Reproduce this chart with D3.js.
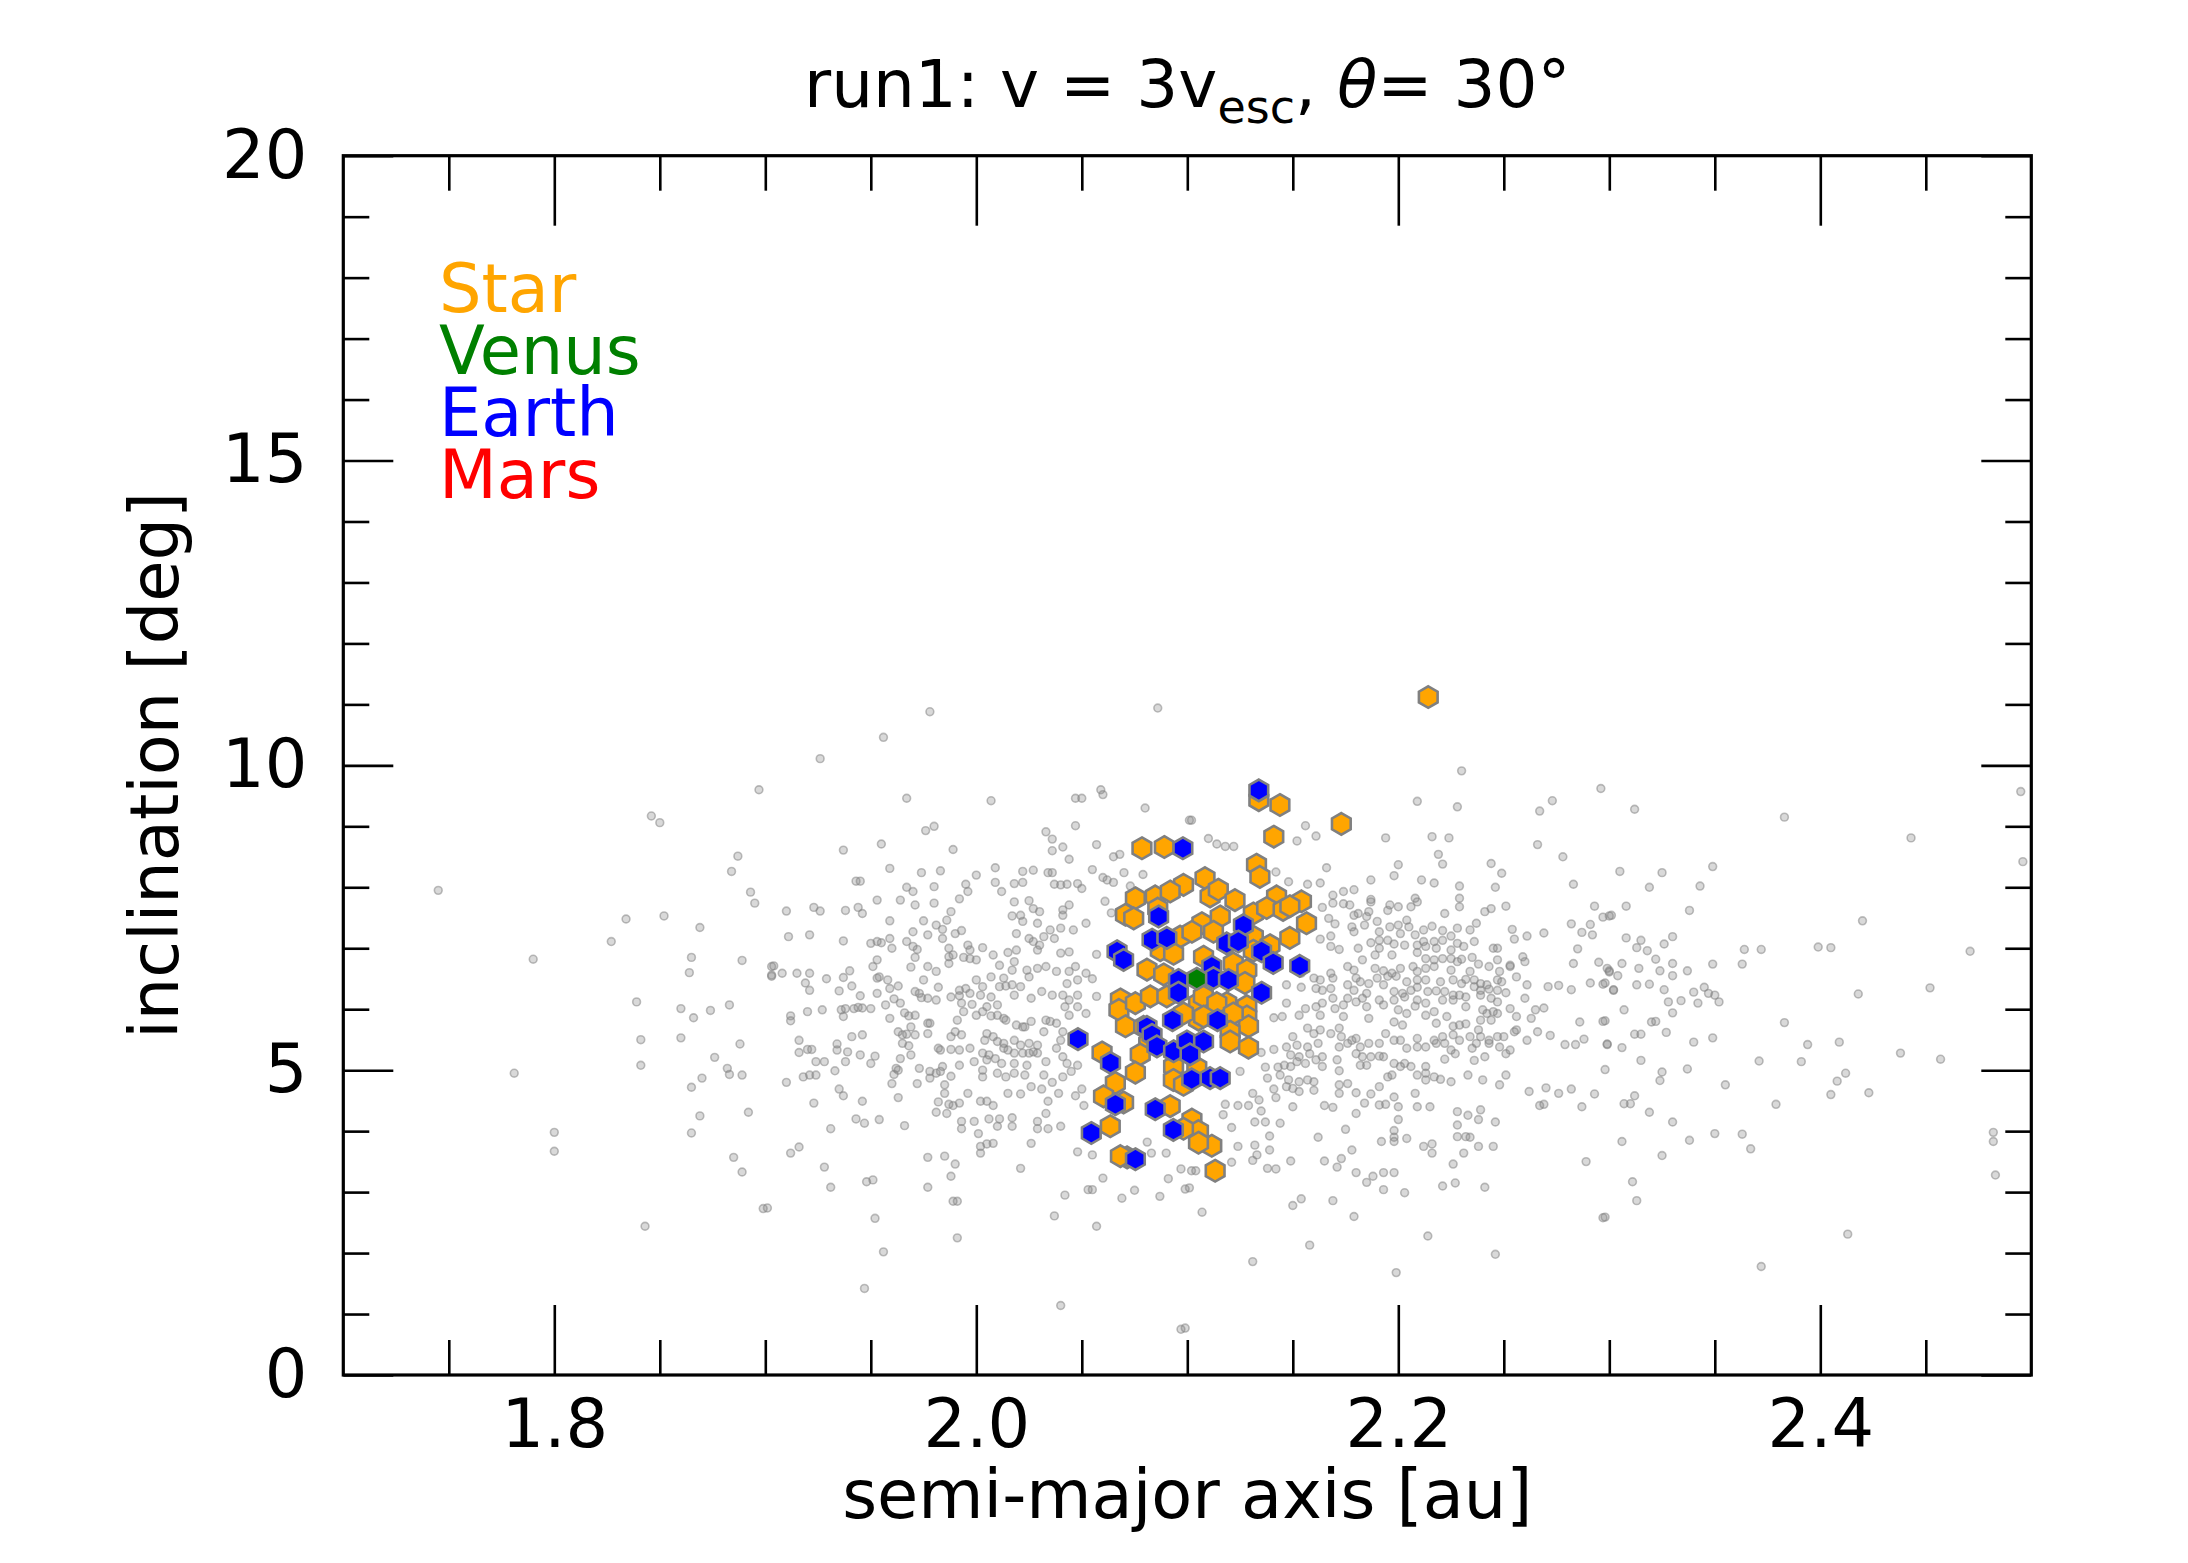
<!DOCTYPE html>
<html><head><meta charset="utf-8">
<script src="https://cdn.jsdelivr.net/npm/d3@7"></script>
<style>html,body{margin:0;padding:0;background:#fff;} text{font-family:"DejaVu Sans",sans-serif;white-space:pre;}</style>
</head><body><svg id="chart" width="2188" height="1563"></svg>
<script>
// ---------------- DATA ----------------
const xMajorTicks = [1.8, 2.0, 2.2, 2.4];
const xMinorTicks = [1.75,1.85,1.9,1.95,2.05,2.1,2.15,2.25,2.3,2.35,2.45];
const yMajorTicks = [0, 5, 10, 15, 20];
const yMinorTicks = [1,2,3,4,6,7,8,9,11,12,13,14,16,17,18,19];
const legendLabels = ["Star", "Venus", "Earth", "Mars"];
const legendColors = ["orange", "green", "blue", "red"];

// background particles [a, inc], read region by region
const bgFar = [
[1.897,9.60],[1.846,9.17],[1.850,9.06],[1.887,8.51],[1.884,8.26],[1.745,7.95],[1.893,7.92],[1.895,7.74],[1.834,7.48],[1.852,7.53],[1.869,7.34],[1.827,7.11],[1.790,6.82],[1.865,6.85],[1.864,6.60],[1.889,6.80],[1.903,6.70],[1.903,6.54],[1.839,6.12],[1.860,6.01],[1.866,5.86],[1.874,5.98],[1.883,6.07],[1.841,5.50],[1.860,5.53],[1.888,5.43],[1.876,5.21],[1.841,5.08],[1.781,4.95],[1.882,5.03],[1.883,4.93],[1.889,4.92],[1.870,4.87],[1.865,4.72],[1.869,4.25],[1.892,4.31],[1.800,3.98],[1.865,3.97],[1.800,3.67],[1.885,3.57],[1.889,3.33],[1.899,2.73],[1.843,2.44],
[2.312,9.28],[2.383,9.15],[2.443,8.81],[2.495,9.57],[2.496,8.42],[2.305,8.26],[2.325,8.24],[2.349,8.34],[2.319,8.00],[2.343,8.02],[2.308,7.69],[2.338,7.62],[2.301,7.54],[2.420,7.45],[2.308,7.17],[2.315,7.13],[2.330,7.19],[2.326,7.07],[2.313,7.01],[2.318,6.96],[2.364,6.98],[2.372,6.98],[2.399,7.02],[2.405,7.01],[2.471,6.95],[2.322,6.82],[2.306,6.75],[2.330,6.75],[2.349,6.74],[2.363,6.74],[2.314,6.67],[2.324,6.63],[2.337,6.63],[2.330,6.55],[2.300,6.63],[2.304,6.55],
[2.313,6.40],[2.319,6.41],[2.302,6.31],[2.326,6.32],[2.340,6.28],[2.345,6.36],[2.347,6.26],[2.350,6.23],[2.352,6.12],[2.334,6.14],[2.328,6.12],[2.342,6.10],[2.452,6.35],[2.418,6.25],[2.307,5.99],[2.330,5.94],[2.320,5.79],[2.322,5.80],[2.383,5.78],[2.312,5.59],[2.315,5.59],[2.327,5.62],[2.299,5.42],[2.306,5.37],[2.340,5.46],[2.349,5.53],[2.394,5.42],[2.409,5.46],[2.438,5.28],[2.457,5.18],[2.315,5.16],[2.371,5.15],[2.391,5.14],
[2.325,4.97],[2.324,4.83],[2.337,5.02],[2.355,4.76],[2.412,4.95],[2.408,4.82],[2.312,4.58],[2.307,4.45],[2.310,4.45],[2.379,4.44],[2.405,4.60],[2.423,4.63],[2.319,4.31],[2.330,4.15],[2.306,3.83],[2.338,3.85],[2.350,3.96],[2.363,3.95],[2.367,3.71],[2.325,3.60],[2.482,3.98],[2.482,3.83],[2.483,3.28],[2.311,3.17],[2.313,2.86],[2.413,2.31],[2.372,1.78],[2.298,6.43],[2.298,5.81],[2.298,5.01],[2.298,2.59]
];

const bgLeft = [
[1.978,10.88],[2.086,10.94],[1.956,10.46],[1.926,10.11],[1.967,9.46],[2.007,9.42],[2.047,9.46],[2.050,9.46],[2.059,9.60],[2.060,9.52],[2.080,9.30],[2.101,9.10],[1.976,8.93],[1.980,9.00],[1.937,8.61],[1.955,8.71],[1.989,8.62],[2.033,8.91],[2.036,8.79],[2.047,9.01],[2.036,8.60],[2.041,8.66],[2.044,8.46],[2.057,8.70],[2.065,8.50],[2.068,8.54],[1.959,8.31],[1.974,8.24],[1.983,8.27],[2.000,8.20],[2.009,8.32],[2.022,8.26],[2.027,8.28],[2.034,8.24],[2.036,8.24],[2.055,8.29],[2.070,8.24],[2.079,8.21],
[2.060,8.16],[2.062,8.12],[2.065,8.08],[2.073,8.02],[2.061,7.77],[2.064,7.58],[2.057,6.90],[2.055,6.50],[2.057,6.21],
[1.910,7.61],[1.923,7.67],[1.926,7.61],[1.921,7.22],[1.911,7.19],[1.904,6.71],[1.908,6.59],[1.903,6.56],[1.915,6.59],[1.921,6.59],[1.919,6.43],[1.921,6.31],[1.929,6.50],[1.912,5.89],[1.912,5.81],[1.920,5.96],[1.927,5.99],[1.916,5.49],[1.916,5.29],[1.920,5.34],[1.922,5.34],[1.924,5.14],[1.928,5.14],[1.918,4.89],[1.921,4.92],[1.924,4.92],[1.910,4.80],
[1.960,4.78],[1.972,4.78],[1.985,4.76],[2.036,4.80],[1.935,4.69],[1.937,4.58],[1.946,4.49],[1.963,4.55],[1.982,4.48],[1.985,4.62],[1.987,4.44],[1.989,4.42],[1.992,4.46],[1.996,4.62],[2.002,4.49],[2.005,4.49],[2.008,4.42],[2.015,4.62],[2.021,4.61],[2.026,4.73],[2.031,4.69],[2.034,4.49],[2.039,4.62],[2.047,4.58],[2.050,4.69],[2.051,4.42],[1.923,4.46],
[1.943,4.20],[1.947,4.13],[1.954,4.19],[1.966,4.09],[1.981,4.31],[1.986,4.29],[1.993,4.16],[1.999,4.16],[2.006,4.20],[2.011,4.20],[2.017,4.22],[2.029,4.16],[2.033,4.29],[2.029,4.04],[2.034,4.04],[2.040,4.08],[2.017,4.08],[2.010,4.08],[1.993,4.04],[2.001,3.96],[1.931,4.04],
[1.912,3.64],[1.916,3.74],[1.928,3.41],[1.931,3.08],[1.948,3.17],[1.951,3.20],[1.977,3.57],[1.985,3.59],[1.990,3.46],[1.988,3.26],[1.977,3.08],[2.002,3.75],[2.005,3.79],[2.008,3.80],[2.002,3.64],[2.026,3.80],[2.021,3.39],[2.048,3.66],[2.055,3.61],[2.060,3.23],[2.053,3.04],[2.055,3.04],[2.042,2.95],[2.069,2.90],[2.075,3.03],[2.083,3.64],[2.087,2.93],[2.091,3.22],[2.097,3.38],[2.099,3.05],[2.081,3.82],[2.090,3.64],[1.989,2.85],[1.991,2.85],[1.952,2.57],[1.901,2.74],[1.956,2.02],[1.991,2.25],[2.037,2.61],[2.057,2.44],[1.947,1.42],[2.040,1.14],[2.097,0.75],[2.102,3.35]
];

const bgLeftDense = [
[1.943,8.10],[1.945,8.10],[1.967,8.00],[1.970,7.93],[1.980,8.01],[1.995,8.05],[1.996,7.93],[2.009,8.08],[2.012,7.93],[2.018,8.06],[2.022,8.08],[2.037,8.05],[2.040,8.04],[2.043,8.05],[2.048,8.06],[2.050,7.98],
[1.953,7.79],[1.964,7.79],[1.971,7.71],[1.980,7.74],[1.992,7.81],[1.938,7.62],[1.944,7.67],[1.946,7.57],[1.988,7.60],[2.018,7.76],[2.025,7.78],[2.027,7.65],[2.030,7.60],[2.044,7.71],[2.041,7.63],[2.041,7.54],
[1.959,7.45],[1.975,7.45],[1.981,7.38],[1.984,7.31],[1.986,7.46],[2.017,7.53],[2.021,7.54],[2.022,7.44],[2.029,7.41],[2.040,7.33],[2.046,7.30],[2.035,7.30],[1.970,7.27],[1.977,7.22],[1.990,7.24],[1.993,7.29],[2.052,7.41],
[1.937,7.12],[1.950,7.08],[1.953,7.11],[1.955,7.09],[1.959,7.16],[1.960,7.00],[1.967,7.11],[1.970,7.03],[1.972,6.98],[1.984,7.16],[1.987,7.00],[1.996,7.05],[1.997,6.97],[2.003,7.01],[2.019,7.24],[2.025,7.16],[2.027,7.11],[2.032,7.19],[2.037,7.16],[2.029,6.97],[2.030,7.05],
[1.951,6.70],[1.953,6.81],[1.971,6.85],[1.969,6.69],[1.977,6.70],[1.981,6.62],[1.987,6.86],[1.989,6.89],[1.987,6.75],[1.994,6.85],[1.997,6.83],[2.000,6.81],[2.008,6.89],[2.011,6.72],[2.015,6.93],[2.018,6.78],[2.019,6.97],[2.017,6.64],[2.024,6.64],[2.029,6.67],[2.033,6.70],[2.038,6.62],[2.044,6.62],[2.047,6.70],[2.040,6.92],[2.044,6.94],
[1.937,6.52],[1.940,6.63],[1.953,6.51],[1.954,6.53],[1.958,6.48],[1.963,6.38],[1.959,6.34],[1.935,6.30],[1.941,6.38],[1.971,6.29],[1.975,6.48],[1.982,6.36],[1.992,6.31],[1.995,6.34],[2.000,6.48],[2.003,6.37],[2.007,6.53],[2.013,6.51],[2.011,6.37],[2.014,6.38],[2.017,6.40],[2.021,6.37],[2.025,6.53],[2.043,6.42],[2.048,6.48],[2.052,6.59],
[1.945,6.22],[1.953,6.26],[1.961,6.17],[1.973,6.26],[1.974,6.19],[1.977,6.18],[1.981,6.15],[1.988,6.20],[1.992,6.22],[1.997,6.26],[2.002,6.23],[2.007,6.20],[2.018,6.23],[2.026,6.18],[2.031,6.29],[2.036,6.23],[2.041,6.23],[2.044,6.15],[2.048,6.23],[1.957,6.07],[1.964,6.10],[1.993,6.10],[1.998,6.08],[2.005,6.04],[2.010,6.07],
[1.936,5.99],[1.938,6.01],[1.942,6.01],[1.944,6.03],[1.946,6.02],[1.950,6.01],[1.937,5.88],[1.959,5.85],[1.966,5.94],[1.968,5.89],[1.971,5.90],[1.977,5.77],[1.978,5.77],[1.991,5.82],[1.994,5.96],[2.000,5.90],[2.003,5.96],[2.007,5.89],[2.010,5.90],[2.013,5.85],[2.014,5.82],[2.019,5.74],[2.022,5.71],[2.023,5.71],[2.026,5.80],[2.033,5.82],[2.035,5.80],[2.038,5.77],[2.042,6.04],[2.044,5.90],[2.048,6.04],[2.052,5.93],
[1.946,5.58],[1.941,5.55],[1.963,5.63],[1.965,5.58],[1.967,5.59],[1.969,5.71],[1.971,5.58],[1.977,5.60],[1.988,5.55],[1.990,5.63],[1.993,5.58],[2.005,5.60],[2.008,5.55],[2.010,5.47],[2.013,5.44],[2.004,5.49],[2.018,5.49],[2.021,5.41],[2.025,5.44],[2.029,5.41],[2.032,5.63],[2.040,5.49],[2.041,5.63],[1.965,5.44],[1.968,5.40],[1.982,5.36],
[1.934,5.43],[1.934,5.33],[1.939,5.30],[1.945,5.25],[1.952,5.23],[1.964,5.19],[1.969,5.25],[1.983,5.33],[1.988,5.34],[1.992,5.33],[1.997,5.36],[2.003,5.28],[2.006,5.25],[2.009,5.19],[2.013,5.36],[2.015,5.33],[2.018,5.28],[2.022,5.28],[2.025,5.28],[2.027,5.30],[2.029,5.28],[2.033,5.14],[2.038,5.36],[2.041,5.22],
[1.938,5.14],[1.950,5.11],[1.962,5.03],[1.973,5.03],[1.978,4.98],[1.984,5.06],[1.992,5.08],[1.999,5.14],[2.005,5.17],[2.012,5.11],[2.018,5.11],[2.024,5.08],[2.043,5.11],[2.048,5.08],
[1.933,4.99],[1.961,4.93],[1.963,5.00],[1.978,4.87],[1.981,4.95],[1.983,4.98],[1.988,4.90],[2.003,5.00],[2.003,4.89],[2.010,4.95],[2.014,4.89],[2.018,4.95],[2.023,4.92],[2.032,4.92],[2.041,4.89],[2.045,4.98]
];

const bgRight = [
[2.230,9.91],[2.296,9.62],[2.209,9.41],[2.228,9.32],[2.273,9.42],[2.267,9.25],[2.102,9.10],[2.156,9.01],[2.161,8.84],[2.194,8.81],[2.216,8.83],[2.224,8.81],[2.110,8.80],[2.114,8.71],[2.118,8.67],[2.122,8.67],[2.152,8.76],[2.266,8.70],[2.219,8.54],[2.221,8.38],[2.278,8.50],[2.200,8.37],[2.166,8.32],[2.244,8.39],[2.249,8.23],[2.198,8.19],[2.142,8.25],[2.187,8.12],[2.211,8.12],[2.217,8.07],[2.229,8.02],[2.157,8.05],[2.163,8.07],[2.246,8.00],[2.283,8.05],[2.148,8.09],
[2.174,7.93],[2.179,7.96],[2.169,7.87],[2.187,7.80],[2.208,7.82],[2.229,7.82],[2.293,7.69],[2.297,7.51],[2.300,7.53],[2.269,7.25],[2.282,7.40],[2.287,7.26],[2.291,7.39],[2.292,7.22],
[2.285,6.99],[2.283,6.75],[2.295,6.77],[2.299,6.67],[2.300,6.61],[2.271,6.37],[2.276,6.39],[2.282,6.32],[2.291,6.43],[2.297,6.41],[2.302,6.32],[2.269,6.02],[2.286,5.79],[2.297,5.80],[2.141,5.86],
[2.272,5.57],[2.279,5.42],[2.284,5.42],[2.288,5.51],[2.299,5.43],[2.135,5.29],[2.141,5.34],[2.137,5.05],[2.143,5.05],[2.125,4.98],[2.138,4.87],
[2.270,4.71],[2.276,4.62],[2.282,4.69],[2.293,4.61],[2.287,4.40],[2.141,4.69],[2.142,4.55],[2.131,4.62],[2.134,4.51],[2.124,4.42],[2.129,4.42],[2.118,4.44],[2.135,4.33],[2.150,4.40],[2.165,4.42],[2.169,4.39],[2.180,4.29],[2.184,4.46],[2.209,4.40],[2.215,4.40],[2.267,4.42],[2.269,4.44],[2.191,4.43],[2.194,4.44],[2.200,4.40],
[2.228,4.32],[2.233,4.26],[2.239,4.35],[2.238,4.19],[2.246,4.15],[2.228,4.10],[2.232,3.91],[2.234,3.90],[2.228,3.91],[2.238,3.75],[2.245,3.75],[2.231,3.64],[2.226,3.46],[2.227,3.15],[2.241,3.08],[2.117,4.27],[2.121,4.06],[2.132,4.15],[2.137,4.15],[2.144,4.13],[2.139,3.92],[2.124,3.75],[2.132,3.77],[2.133,3.61],[2.139,3.69],[2.121,3.49],[2.131,3.52],[2.138,3.39],[2.142,3.38],[2.149,3.51],[2.162,3.90],[2.165,3.51],[2.171,3.41],[2.173,3.55],[2.178,3.69],[2.175,4.03],
[2.192,3.83],[2.198,3.90],[2.198,3.83],[2.204,3.88],[2.198,4.01],[2.200,4.19],[2.212,3.75],[2.216,3.79],[2.216,3.64],[2.180,3.32],[2.185,3.16],[2.188,3.26],[2.193,3.32],[2.198,3.32],[2.193,3.04],[2.203,2.99],[2.221,3.10],[2.101,3.07],[2.104,3.35],[2.107,2.67],[2.150,2.78],[2.154,2.89],[2.169,2.86],[2.179,2.60],[2.158,2.13],[2.131,1.86],[2.199,1.68],[2.214,2.28],[2.246,1.98],[2.297,2.58],[2.289,3.50],[2.099,0.77]
];

const bgRightDense = [
[2.164,7.67],[2.169,7.74],[2.174,7.73],[2.177,7.71],[2.181,7.57],[2.186,7.60],[2.187,7.76],[2.196,7.71],[2.195,7.62],[2.200,7.68],[2.206,7.68],[2.209,7.76],[2.222,7.57],[2.229,7.68],[2.241,7.60],[2.244,7.65],[2.251,7.69],[2.167,7.49],[2.179,7.54],[2.185,7.52],[2.190,7.44],
[2.170,7.40],[2.178,7.35],[2.179,7.27],[2.184,7.38],[2.191,7.27],[2.196,7.35],[2.200,7.38],[2.204,7.46],[2.201,7.24],[2.205,7.35],[2.208,7.22],[2.212,7.30],[2.216,7.36],[2.221,7.29],[2.225,7.20],[2.228,7.33],[2.234,7.30],[2.237,7.41],[2.254,7.31],[2.261,7.20],[2.163,7.15],[2.168,7.20],[2.191,7.13],[2.195,7.13],[2.212,7.11],[2.217,7.11],[2.221,7.13],[2.228,7.08],
[2.168,7.03],[2.172,6.98],[2.181,7.00],[2.187,7.09],[2.191,7.00],[2.198,7.07],[2.203,7.05],[2.209,7.05],[2.213,7.03],[2.218,7.00],[2.225,6.97],[2.231,7.03],[2.236,7.11],[2.245,7.00],[2.247,7.00],[2.255,7.15],[2.197,6.89],[2.209,6.93],[2.213,6.83],[2.217,6.81],[2.221,6.83],[2.225,6.83],[2.230,6.82],[2.235,6.85],[2.238,6.74],[2.247,6.81],[2.253,6.72],[2.259,6.86],[2.260,6.78],[2.189,6.89],
[2.176,6.70],[2.179,6.64],[2.183,6.81],[2.189,6.67],[2.193,6.63],[2.197,6.59],[2.201,6.67],[2.207,6.70],[2.209,6.62],[2.213,6.67],[2.217,6.70],[2.225,6.64],[2.228,6.78],[2.234,6.62],[2.243,6.70],[2.248,6.62],[2.253,6.70],[2.256,6.53],[2.168,6.59],[2.169,6.51],[2.180,6.51],[2.182,6.45],[2.186,6.42],[2.190,6.51],[2.195,6.54],[2.199,6.54],[2.204,6.45],[2.209,6.48],[2.213,6.48],[2.220,6.45],[2.226,6.48],[2.230,6.42],[2.232,6.49],[2.236,6.48],[2.239,6.42],[2.242,6.40],[2.247,6.48],[2.249,6.45],[2.261,6.40],[2.160,6.51],[2.163,6.48],[2.154,6.59],
[2.161,6.34],[2.164,6.31],[2.154,6.36],[2.147,6.40],[2.168,6.34],[2.176,6.40],[2.179,6.31],[2.185,6.26],[2.193,6.40],[2.198,6.29],[2.202,6.26],[2.206,6.31],[2.209,6.36],[2.214,6.29],[2.218,6.30],[2.222,6.29],[2.226,6.23],[2.229,6.23],[2.236,6.37],[2.239,6.31],[2.243,6.33],[2.247,6.31],[2.251,6.27],[2.169,6.18],[2.176,6.18],[2.183,6.18],[2.191,6.15],[2.198,6.15],[2.203,6.20],[2.209,6.15],[2.213,6.10],[2.221,6.15],[2.226,6.15],[2.232,6.20],[2.239,6.23],[2.244,6.18],[2.247,6.12],[2.260,6.18],
[2.147,6.10],[2.156,6.01],[2.161,6.04],[2.164,6.10],[2.170,6.01],[2.174,6.07],[2.180,6.12],[2.185,6.04],[2.193,6.07],[2.200,5.99],[2.204,5.93],[2.208,6.05],[2.213,5.90],[2.217,5.96],[2.223,5.88],[2.232,6.04],[2.240,5.99],[2.242,5.93],[2.245,5.96],[2.247,5.93],[2.253,6.01],[2.256,5.88],[2.263,5.85],[2.265,5.99],[2.145,5.88],[2.153,5.90],[2.163,5.90],[2.174,5.88],[2.186,5.85],[2.198,5.79],[2.202,5.74],[2.218,5.77],[2.226,5.72],[2.229,5.74],[2.232,5.76],[2.239,5.82],[2.244,5.82],
[2.157,5.69],[2.160,5.60],[2.163,5.66],[2.168,5.60],[2.172,5.69],[2.173,5.55],[2.178,5.49],[2.180,5.52],[2.186,5.44],[2.191,5.44],[2.194,5.60],[2.198,5.49],[2.201,5.49],[2.209,5.52],[2.213,5.38],[2.217,5.49],[2.221,5.55],[2.222,5.44],[2.226,5.58],[2.229,5.49],[2.234,5.55],[2.238,5.66],[2.239,5.55],[2.243,5.49],[2.247,5.55],[2.250,5.55],[2.255,5.63],[2.256,5.66],[2.261,5.49],[2.266,5.63],[2.150,5.55],
[2.147,5.38],[2.152,5.41],[2.157,5.38],[2.162,5.44],[2.172,5.38],[2.176,5.44],[2.182,5.38],[2.187,5.22],[2.191,5.23],[2.193,5.22],[2.180,5.27],[2.204,5.36],[2.209,5.38],[2.218,5.44],[2.225,5.33],[2.227,5.27],[2.235,5.36],[2.237,5.44],[2.243,5.44],[2.248,5.38],[2.253,5.33],[2.149,5.25],[2.153,5.22],[2.158,5.27],[2.161,5.17],[2.164,5.22],[2.171,5.17],[2.183,5.22],[2.185,5.08],[2.198,5.11],[2.203,5.11],[2.206,5.06],[2.213,5.06],[2.222,5.18],[2.236,5.16],[2.241,5.22],[2.251,5.27],
[2.146,5.08],[2.149,5.06],[2.152,5.14],[2.156,5.11],[2.164,5.06],[2.172,4.99],[2.182,5.08],[2.195,4.89],[2.197,4.92],[2.201,5.06],[2.209,4.92],[2.213,4.95],[2.217,4.89],[2.220,4.85],[2.225,4.81],[2.233,4.92],[2.240,4.84],[2.251,4.92],[2.144,4.92],[2.148,4.84],[2.153,4.81],[2.157,4.84],[2.160,4.81],
[2.147,4.73],[2.150,4.70],[2.153,4.65],[2.160,4.67],[2.172,4.76],[2.176,4.78],[2.172,4.62],[2.180,4.63],[2.187,4.61],[2.191,4.73],[2.198,4.56],[2.208,4.62],[2.213,4.84],[2.248,4.76],[2.262,4.65]
];

const starPoints = [
[2.1439,9.35],[2.1339,9.43],[2.1730,9.04],[2.1410,8.83],[2.0785,8.64],[2.0891,8.66],[2.1328,8.37],[2.1344,8.17],[2.0982,8.04],[2.1084,8.15],
[2.0754,7.82],[2.0848,7.85],[2.0919,7.93],[2.1108,7.85],[2.1147,7.96],[2.1226,7.79],[2.1423,7.85],[2.1541,7.77],[2.0707,7.55],[2.0746,7.49],
[2.0860,7.65],[2.1069,7.41],[2.1156,7.52],[2.1313,7.57],[2.1376,7.66],[2.1454,7.63],[2.1486,7.69],[2.1565,7.41],[2.1486,7.17],[2.0966,7.19],
[2.1022,7.27],[2.1124,7.27],[2.1313,7.19],[2.1392,7.05],[2.1313,6.96],[2.0872,6.97],[2.0935,6.91],[2.1077,6.86],[2.1218,6.75],[2.1282,6.64],
[2.0809,6.65],[2.0888,6.57],[2.1273,6.43],[2.0683,6.16],[2.0676,5.99],[2.0754,6.10],[2.0825,6.21],[2.0707,5.72],[2.1053,6.10],[2.1187,6.10],
[2.1282,6.05],[2.1282,5.88],[2.1290,5.72],[2.1053,5.83],[2.0903,6.21],[2.1076,6.21],[2.1140,6.10],[2.1218,5.93],[2.1077,5.88],[2.0982,5.93],
[2.0793,5.71],[2.1203,5.63],[2.0817,5.44],[2.1203,5.47],[2.1290,5.37],[2.0777,5.26],[2.0754,4.96],[2.0596,5.29],[2.0659,4.79],[2.0935,5.06],
[2.1045,5.04],[2.0934,4.84],[2.0982,4.76],[2.0603,4.57],[2.0698,4.47],[2.0919,4.41],[2.0635,4.08],[2.1022,4.19],[2.1053,4.00],[2.0982,4.04],
[2.1116,3.76],[2.1053,3.81],[2.0715,3.57],[2.0683,3.59],[2.1132,3.35],[2.2142,11.12]
];

const venusPoints = [[2.1045,6.50]];

const earthPoints = [
[2.1339,9.59],[2.0979,8.64],[2.0864,7.52],[2.1266,7.38],[2.0833,7.14],[2.0903,7.17],[2.1187,7.08],[2.1242,7.11],[2.1352,6.95],[2.1407,6.76],
[2.1533,6.71],[2.0667,6.95],[2.0698,6.81],[2.1116,6.70],[2.0958,6.48],[2.0958,6.27],[2.1124,6.51],[2.1195,6.48],[2.1352,6.27],[2.0930,5.82],
[2.1143,5.82],[2.0809,5.71],[2.0833,5.58],[2.0856,5.39],[2.0935,5.31],[2.0998,5.47],[2.1077,5.47],[2.1013,5.26],[2.0636,5.12],[2.0482,5.51],
[2.1021,4.85],[2.1108,4.87],[2.1156,4.87],[2.0659,4.44],[2.0848,4.36],[2.0545,3.97],[2.0934,4.02],[2.0754,3.54]
];

const marsPoints = [];

const backgroundPoints = [].concat(bgFar, bgLeft, bgLeftDense, bgRight, bgRightDense);

// ---------------- LAYOUT ----------------
const svg = d3.select("#chart");
const L = 343.3, R = 2031.3, T = 155.7, B = 1375;
const x = d3.scaleLinear().domain([1.7, 2.5]).range([L, R]);
const y = d3.scaleLinear().domain([0, 20]).range([B, T]);
const FS = 67;

svg.append("g").selectAll("circle").data(backgroundPoints).join("circle")
  .attr("cx", d => x(d[0])).attr("cy", d => y(d[1])).attr("r", 3.9)
  .attr("fill", "#808080").attr("fill-opacity", 0.3)
  .attr("stroke", "#808080").attr("stroke-opacity", 0.5).attr("stroke-width", 1.6);

function hexPath(r) {
  const pts = [];
  for (let k = 0; k < 6; k++) {
    const a = (-90 + 60 * k) * Math.PI / 180;
    pts.push([r * Math.cos(a), r * Math.sin(a)]);
  }
  return "M" + pts.map(p => p[0].toFixed(2) + "," + p[1].toFixed(2)).join("L") + "Z";
}
const hp = hexPath(10.8);
function drawHex(data, color) {
  svg.append("g").selectAll("path").data(data).join("path")
    .attr("d", hp)
    .attr("transform", d => `translate(${x(d[0])},${y(d[1])})`)
    .attr("fill", color).attr("stroke", "#808080").attr("stroke-width", 2.6);
}
drawHex(starPoints, "orange");
drawHex(marsPoints, "red");
drawHex(earthPoints, "blue");
drawHex(venusPoints, "green");

function styleAxis(g) {
  g.select(".domain").remove();
  g.selectAll(".tick line").attr("stroke", "#000").attr("stroke-width", 2.6);
  g.selectAll(".tick text").attr("font-family", "DejaVu Sans").attr("font-size", FS).attr("fill", "#000");
}
svg.append("g").attr("transform", `translate(0,${B})`)
  .call(d3.axisBottom(x).tickValues(xMajorTicks).tickSize(-70).tickSizeOuter(0).tickPadding(24).tickFormat(d3.format(".1f")))
  .call(styleAxis);
svg.append("g").attr("transform", `translate(0,${B})`)
  .call(d3.axisBottom(x).tickValues(xMinorTicks).tickSize(-35).tickSizeOuter(0).tickFormat(""))
  .call(styleAxis);
svg.append("g").attr("transform", `translate(0,${T})`)
  .call(d3.axisTop(x).tickValues(xMajorTicks).tickSize(-70).tickSizeOuter(0).tickFormat(""))
  .call(styleAxis);
svg.append("g").attr("transform", `translate(0,${T})`)
  .call(d3.axisTop(x).tickValues(xMinorTicks).tickSize(-35).tickSizeOuter(0).tickFormat(""))
  .call(styleAxis);
svg.append("g").attr("transform", `translate(${L},0)`)
  .call(d3.axisLeft(y).tickValues(yMajorTicks).tickSize(-50).tickSizeOuter(0).tickPadding(36).tickFormat(d3.format("d")))
  .call(styleAxis);
svg.append("g").attr("transform", `translate(${L},0)`)
  .call(d3.axisLeft(y).tickValues(yMinorTicks).tickSize(-26).tickSizeOuter(0).tickFormat(""))
  .call(styleAxis);
svg.append("g").attr("transform", `translate(${R},0)`)
  .call(d3.axisRight(y).tickValues(yMajorTicks).tickSize(-50).tickSizeOuter(0).tickFormat(""))
  .call(styleAxis);
svg.append("g").attr("transform", `translate(${R},0)`)
  .call(d3.axisRight(y).tickValues(yMinorTicks).tickSize(-26).tickSizeOuter(0).tickFormat(""))
  .call(styleAxis);

svg.append("rect").attr("x", L).attr("y", T).attr("width", R - L).attr("height", B - T)
  .attr("fill", "none").attr("stroke", "#000").attr("stroke-width", 3.2);

svg.append("g").selectAll("text").data(legendLabels).join("text")
  .attr("x", 439).attr("y", (d, i) => 312 + i * 62)
  .attr("font-size", FS).attr("fill", (d, i) => legendColors[i]).text(d => d);

const title = svg.append("text").attr("x", (L + R) / 2).attr("y", 107)
  .attr("text-anchor", "middle").attr("font-size", 66).attr("fill", "#000");
title.append("tspan").text("run1: v = 3v");
title.append("tspan").attr("font-size", 46).attr("dy", 16).text("esc");
title.append("tspan").attr("dy", -16).text(", ");
title.append("tspan").attr("font-style", "italic").text("θ");
title.append("tspan").text("= 30°");

svg.append("text").attr("x", (L + R) / 2).attr("y", 1518).attr("text-anchor", "middle")
  .attr("font-size", FS).attr("fill", "#000").text("semi-major axis [au]");
svg.append("text").attr("transform", `translate(178,${(T + B) / 2}) rotate(-90)`).attr("text-anchor", "middle")
  .attr("font-size", FS).attr("fill", "#000").text("inclination [deg]");
</script>
</body></html>
